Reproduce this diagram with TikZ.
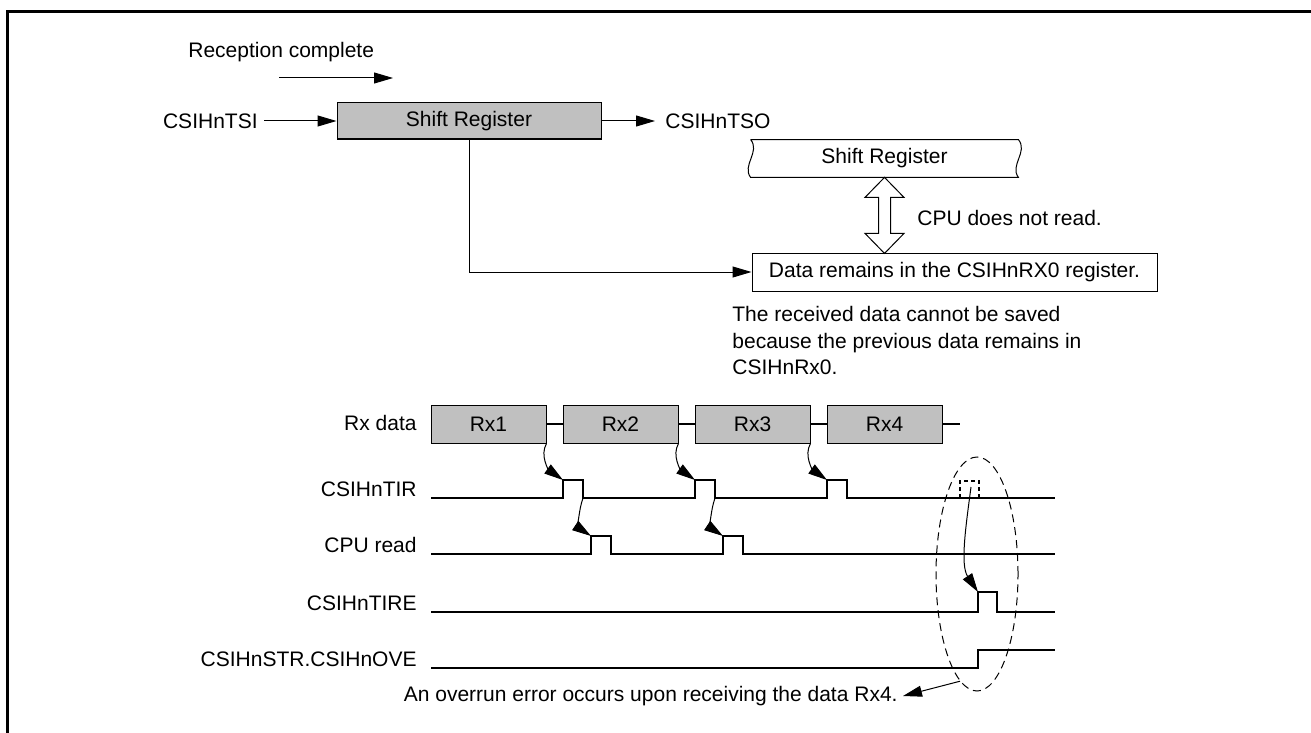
\documentclass[tikz,border=0pt]{standalone}
\usepackage{fontspec}
\setmainfont{Liberation Sans}
\usetikzlibrary{calc, positioning, arrows.meta, shapes.geometric}
\definecolor{regfill}{RGB}{192, 192, 192}

\begin{document}
\begin{tikzpicture}[x=0.5pt, y=-0.5pt,
    font=\fontsize{10.5pt}{10.75pt}\selectfont,
    arr/.style={-{Triangle[length=9.5pt, width=5.5pt]}, line width=0.5pt},
    sig/.style={line width=1pt},
    lbl/.style={inner sep=0pt},
    regbox/.style={draw, line width=0.5pt, fill=regfill, minimum height=18pt, inner sep=0pt}]

  \useasboundingbox (0,0) rectangle (1311,733);
  \draw[line width=1.5pt] (7,733) -- (7,12) -- (1311,12);

  % shift register and receive register
  \node[lbl, anchor=west] (rcvtxt) at (188,52) {Reception complete};
  \coordinate (rcvfrom) at (279,78);
  \coordinate (rcvto) at (393,78);
  \draw[arr] (rcvfrom) -- (rcvto);

  \node[regbox, minimum width=132pt] (sreg) at (469,121) {Shift Register};
  \node[lbl, anchor=east] (tsi) at (258,121) {CSIHnTSI};
  \node[lbl, anchor=west] (tso) at (665,121) {CSIHnTSO};
  \draw[arr] ([xshift=3pt]tsi.east) -- (sreg.west);
  \draw[arr] (sreg.east) -- ([xshift=-5pt]tso.west);

  \node[minimum width=133.5pt, minimum height=18.5pt, inner sep=0pt] (sbuf) at (884.5,158.5) {Shift Register};
  \draw[line width=0.5pt] (sbuf.north west) -- (sbuf.north east)
    .. controls +(10,12) and +(-9,-12) .. (sbuf.south east) -- (sbuf.south west)
    .. controls +(-9,-12) and +(10,12) .. (sbuf.north west);
  \draw[line width=0.5pt, fill=white] (sbuf.south) -- ++(19.5,20) -- ++(-13.5,0) -- ++(0,36)
    -- ++(13.5,0) -- ++(-19.5,20) -- ++(-19.5,-20) -- ++(13.5,0) -- ++(0,-36) -- ++(-13.5,0) -- cycle;
  \node[lbl, anchor=west] (noread) at (917,218) {CPU does not read.};

  \node[draw, line width=0.5pt, minimum width=202.5pt, minimum height=19pt, inner sep=0pt] (rxreg) at (954.5,272) {Data remains in the CSIHnRX0 register.};
  \draw[arr] (sreg.south) |- (rxreg.west);
  \node[lbl, anchor=north west, align=left] (savenote) at (732,306)
    {The received data cannot be saved\\[2.5pt]because the previous data remains in\\[2.5pt]CSIHnRx0.};

  % timing chart
  \foreach \name/\txt/\yy in {lrx/Rx data/430, ltir/CSIHnTIR/496, lcpu/CPU read/552,
                              ltire/CSIHnTIRE/610, love/CSIHnSTR.CSIHnOVE/666}
    \node[lbl, anchor=base east] (\name) at (417,\yy) {\txt};

  \foreach \i/\txt in {0/Rx1, 1/Rx2, 2/Rx3, 3/Rx4}
    \node[regbox, minimum width=57.5pt, minimum height=19pt] (rx\i) at ({488.5+132*\i},424) {\txt};
  \foreach \i/\j in {0/1, 1/2, 2/3}
    \draw[line width=1pt] (rx\i.east) -- (rx\j.west);
  \coordinate (rxend) at (960,424);
  \draw[line width=1pt] (rx3.east) -- (rxend);

  \draw[sig] (431,498) \foreach \x in {563,695,827} { -- (\x,498) -- (\x,480) -- (\x+20,480) -- (\x+20,498) } -- (1055,498);
  \draw[sig] (431,554) \foreach \x in {591,723} { -- (\x,554) -- (\x,536) -- (\x+20,536) -- (\x+20,554) } -- (1055,554);
  \draw[sig] (431,612) -- (978,612) -- (978,592) -- (997,592) -- (997,612) -- (1055,612);
  \draw[sig] (431,668) -- (978,668) -- (978,650) -- (1055,650);
  \draw[sig, dash pattern=on 2pt off 1.5pt] (960,498) -- (960,481) -- (979,481) -- (979,498);

  \foreach \i in {0,1,2}
    \coordinate (tirup\i) at ({563+132*\i},480);
  \foreach \i in {0,1} {
    \coordinate (tirdn\i) at ({583+132*\i},498);
    \coordinate (cpuup\i) at ({591+132*\i},536);
  }
  \foreach \i in {0,1,2}
    \draw[arr] (rx\i.south east) .. controls +(-7,12) and +(-14,-10) .. (tirup\i);
  \foreach \i in {0,1}
    \draw[arr] (tirdn\i) .. controls +(-5,14) and +(-12,-8) .. (cpuup\i);

  \coordinate (tirlost) at (971,487);
  \coordinate (tireup) at (978,592);
  \draw[arr] (tirlost) .. controls (966,525) and (960,565) .. (tireup);

  \node[draw, ellipse, dash pattern=on 4pt off 2.5pt, line width=0.5pt, minimum width=41pt,
        minimum height=117pt, inner sep=0pt] (ovrzone) at (977,574) {};
  \node[lbl, anchor=east] (ovrnote) at (898,696) {An overrun error occurs upon receiving the data Rx4.};
  \draw[arr] (ovrzone.261) -- ([xshift=2.5pt]ovrnote.east);
\end{tikzpicture}
\end{document}
